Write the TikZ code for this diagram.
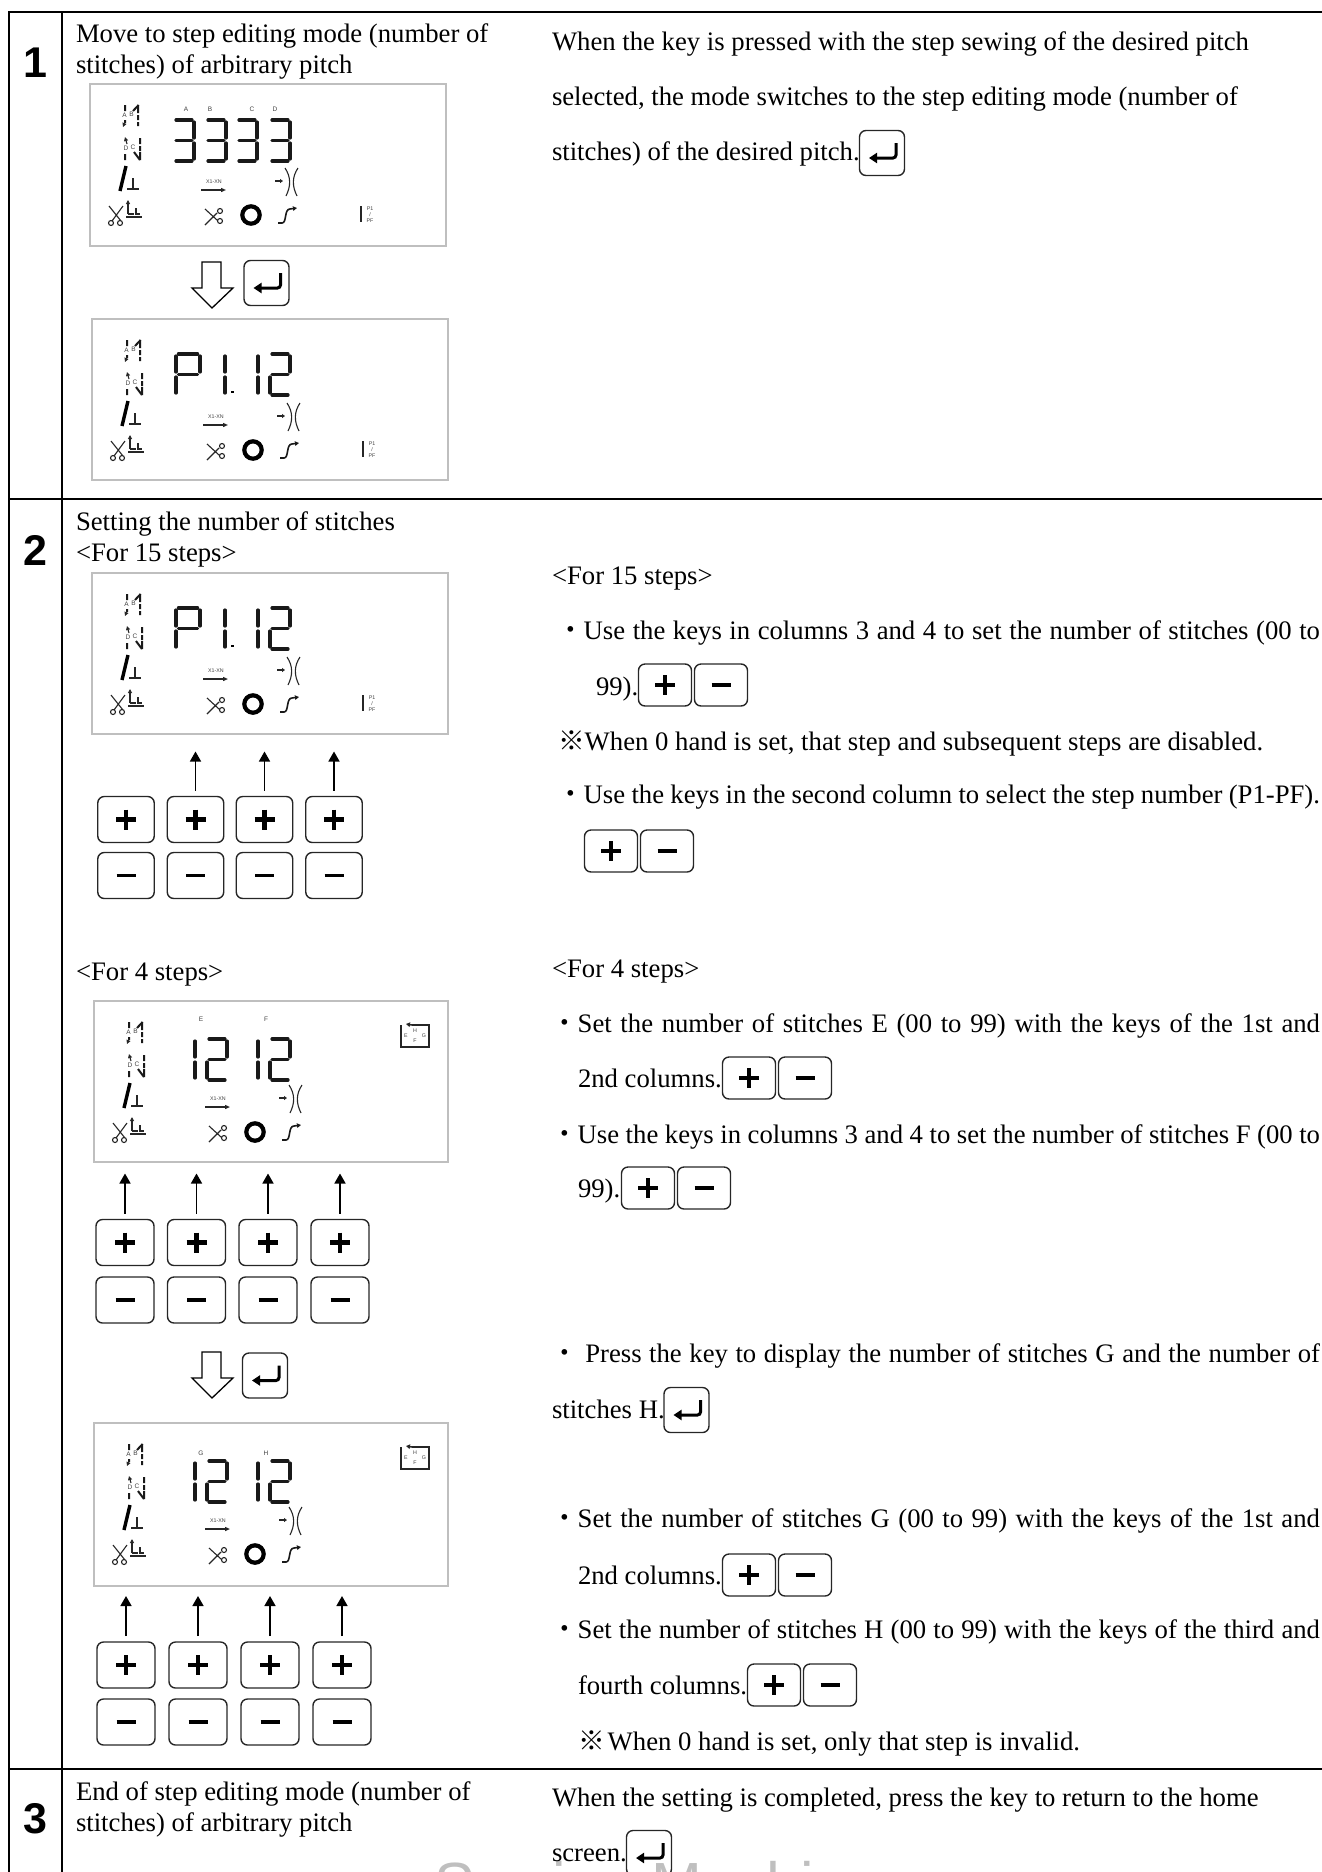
\documentclass[tikz,border=0pt]{standalone}
\usepackage{fontspec}
\setmainfont{Liberation Serif}
\newfontfamily\jpf{Noto Sans CJK JP}
\newfontfamily\arl{Liberation Sans}
\usetikzlibrary{arrows.meta}
\tikzset{
  txt/.style={anchor=base west,inner sep=0pt,outer sep=0pt,font=\fontsize{26.7}{32}\selectfont},
  rownum/.style={anchor=base,inner sep=0pt,font=\arl\bfseries\fontsize{43}{50}\selectfont},
  grid/.style={line width=2.5pt,black},
  panel/.style={draw=black!25,line width=1.2pt,anchor=north west,inner sep=0pt,outer sep=0pt},
  keybox/.style={draw=black!85,line width=1.4pt,rounded corners=6.5pt,inner sep=0pt,outer sep=0pt},
  glyph/.style={line width=4.2pt,black},
  entglyph/.style={line width=3pt,black,rounded corners=3pt,-{Triangle[width=10pt,length=8pt]}},
  upkey/.style={line width=1.6pt,black,-{Triangle[width=11pt,length=10pt]}},
  hollow/.style={line width=1.3pt,black,fill=white},
  seg/.style={line width=3.2pt,black!90,line cap=round},
  dash seg/.style={line width=2pt,black!90},
  thin/.style={line width=1.1pt,black!85},
  lab/.style={inner sep=0pt,text=black!75,font=\arl\fontsize{6.5}{6.5}\selectfont},
  tiny lab/.style={inner sep=0pt,text=black!75,font=\arl\fontsize{5.3}{5.5}\selectfont},
}
% segments of a digit 20 wide, 41 high
\newcommand{\sga}{\draw[seg] (2,0)--(18,0);}
\newcommand{\sgb}{\draw[seg] (20,2)--(20,18);}
\newcommand{\sgc}{\draw[seg] (20,23)--(20,39);}
\newcommand{\sgd}{\draw[seg] (2,41)--(18,41);}
\newcommand{\sge}{\draw[seg] (0,23)--(0,39);}
\newcommand{\sgf}{\draw[seg] (0,2)--(0,18);}
\newcommand{\sgg}{\draw[seg] (2,20.5)--(18,20.5);}
\newcommand{\dgt}[3]{\begin{scope}[shift={(#1,#2)}]#3\end{scope}}
\newcommand{\dgw}[3]{\begin{scope}[shift={(#1,#2)},xscale=1.2]#3\end{scope}}
\newcommand{\dthree}{\sga\sgb\sgc\sgd\sgg}
\newcommand{\dtwo}{\sga\sgb\sgg\sge\sgd}
\newcommand{\dP}{\sga\sgb\sgf\sge\sgg}
\newcommand{\done}{\sgb\sgc}
% common icons of the LCD panel, coordinates relative to the panel corner
\newcommand{\lcdicons}{%
  \draw[dash seg] (35,21)--(35,27) (35,36)--(35,39) (48,21)--(48,29) (48,31)--(48,36) (48,38)--(48,42) (48.6,21)--(43,27);
  \draw[thin,-{Triangle[width=4pt,length=4pt]}] (35,38)--(33,43);
  \node[lab] (la) at (34.5,31) {A};
  \node[lab] (lb) at (41.5,30) {B};
  \draw[dash seg] (50,54)--(50,60) (50,62)--(50,67) (50,68)--(50,76) (44,68)--(50,76) (35,70)--(35,76);
  \draw[thin,-{Triangle[width=4pt,length=4pt]}] (37,60)--(35,53);
  \node[lab] (ld) at (36,64) {D};
  \node[lab] (lc) at (43,63) {C};
  \draw[line width=3.4pt,black] (30,107)--(36,82);
  \draw[line width=1.4pt,black!85] (43,94)--(43,104) (37,105)--(49,105);
  \draw[thin] (19,122)--(31,137) (33,122)--(22,137) (21,139) circle (2.5) (30,139) circle (2.5);
  \draw[thin,-{Triangle[width=4pt,length=4pt]}] (38,130)--(38,116);
  \draw[line width=1.6pt,black!85] (36,133)--(52,133);
  \draw[thin] (38,130)--(44,130) (46,124)--(46,131) (46,130)--(50,130);
  \node[tiny lab] (xx) at (124,98) {X1-XN};
  \draw[line width=1.4pt,black!85,-{Triangle[width=4pt,length=5pt]}] (111,106)--(136,106);
  \draw[thin,-{Triangle[width=4pt,length=3pt]}] (185,97)--(193,97);
  \draw[thin] (195,84) .. controls (201,93) and (201,102) .. (196,112);
  \draw[thin] (208,84) .. controls (202,93) and (202,102) .. (207,112);
  \draw[thin] (115,125)--(127,136) (115,141)--(127,129) (130,127) circle (2.5) (130,137) circle (2.5);
  \draw[line width=4.2pt,black] (161,131) circle (8.7);
  \draw[line width=1.6pt,black!90,-{Triangle[width=4.5pt,length=4pt]}] (188,139)--(192,139) .. controls (197,139) and (194,125) .. (200,125)--(207,124);
}
\newcommand{\pfbar}{%
  \draw[line width=2.2pt,black!85] (271,122)--(271,138);
  \node[tiny lab] (lp1) at (280,125) {P1};
  \node[tiny lab] (lp2) at (280,131) {/};
  \node[tiny lab] (lp3) at (280,137) {PF};
}
\newcommand{\efgh}{%
  \draw[line width=2.2pt,black!85] (307,24)--(307,46)--(335,46)--(335,24)--(318,24);
  \draw[line width=1.5pt,black!85,-{Triangle[width=4.5pt,length=4pt]}] (318,24)--(312,23);
  \node[tiny lab] (lE) at (312,35) {E};
  \node[tiny lab] (lH) at (321,30) {H};
  \node[tiny lab] (lF) at (321,40) {F};
  \node[tiny lab] (lG) at (330,35) {G};
}
\newcommand{\panelP}{%
  \dgw{84}{35}{\dP}\dgt{113}{35}{\done}\draw[line width=2.4pt] (139,73)--(142,73);
  \dgt{146}{35}{\done}\dgt{178}{35}{\dtwo}
}
\newcommand{\panelDouble}[3]{%
  \node[lab] (l#1) at (107,#3) {#1};\node[lab] (l#2) at (172,#3) {#2};
  \dgt{81}{38}{\done}\dgt{113}{38}{\dtwo}\dgt{144}{38}{\done}\dgt{176}{38}{\dtwo}
}
% plus and minus keys
\newcommand{\plk}[5]{\node[keybox,minimum width=#4pt,minimum height=#5pt] (#1) at (#2,#3) {};
  \draw[glyph] (#1.center) +(-10,0) -- +(10,0) (#1.center) +(0,-10) -- +(0,10);}
\newcommand{\mnk}[5]{\node[keybox,minimum width=#4pt,minimum height=#5pt] (#1) at (#2,#3) {};
  \draw[glyph,line width=3.8pt] (#1.center) +(-9.5,0) -- +(9.5,0);}
\newcommand{\pmpair}[3]{\plk{#1p}{\the\numexpr#2+27\relax}{#3}{53}{42}\mnk{#1m}{\the\numexpr#2+83\relax}{#3}{53}{42}}
\newcommand{\entk}[3]{\node[keybox,minimum width=45pt,minimum height=45pt] (#1) at (#2,#3) {};
  \draw[entglyph] (#1.center) +(14,-10) -- +(14,5) -- +(-13,5);}
\newcommand{\keyrows}[8]{% prefix, x1..x4, yplus, yminus, w
  \plk{#1a}{#2}{#6}{#8}{46}\plk{#1b}{#3}{#6}{#8}{46}\plk{#1c}{#4}{#6}{#8}{46}\plk{#1d}{#5}{#6}{#8}{46}
  \mnk{#1e}{#2}{#7}{#8}{46}\mnk{#1f}{#3}{#7}{#8}{46}\mnk{#1g}{#4}{#7}{#8}{46}\mnk{#1h}{#5}{#7}{#8}{46}}
\newcommand{\hollowarrow}[1]{\draw[hollow,shift={(0,#1)}] (212,308)--(192,288)--(202,288)--(202,262)--(221,262)--(221,288)--(233,288)--cycle;}
\newcommand{\jl}[4]{\node[txt] (#1) at (#2,#3) {\hbox to \dimexpr1320pt-#2pt\relax{#4}};}
\newcommand{\bul}{{\jpf ・}}
\newcommand{\kome}{{\jpf ※}}
\begin{document}
\begin{tikzpicture}[x=1pt,y=-1pt]
\useasboundingbox (0,0) rectangle (1322,1872);
% watermark, cut by the page edge
\node[anchor=base west,inner sep=0pt,text=black!25,font=\arl\fontsize{61}{70}\selectfont] (wm) at (434,1905) {Sewing Machine};
% table
\draw[grid] (9,12) -- (1322,12);
\draw[grid] (9,499) -- (1322,499);
\draw[grid] (9,1769) -- (1322,1769);
\draw[grid] (9,11) -- (9,1872);
\draw[grid] (62,11) -- (62,1872);
\node[rownum] (n1) at (35,77) {1};
\node[rownum] (n2) at (35,565) {2};
\node[rownum] (n3) at (35,1833) {3};
% left column text
\node[txt] (t1a) at (76,42) {Move to step editing mode (number of};
\node[txt] (t1b) at (76,73) {stitches) of arbitrary pitch};
\node[txt] (t2a) at (76,530) {Setting the number of stitches};
\node[txt] (t2b) at (76,561) {<For 15 steps>};
\node[txt] (t2c) at (76,980) {<For 4 steps>};
\node[txt] (t3a) at (76,1800) {End of step editing mode (number of};
\node[txt] (t3b) at (76,1831) {stitches) of arbitrary pitch};
% panels
\node[panel,minimum width=356pt,minimum height=162pt] (p1) at (90,84) {};
\begin{scope}[shift={(90,84)}]\lcdicons\pfbar
  \node[lab] (pA) at (96,25) {A};\node[lab] (pB) at (120,25) {B};\node[lab] (pC) at (162,25) {C};\node[lab] (pD) at (185,25) {D};
  \dgt{84}{36}{\dthree}\dgt{116}{36}{\dthree}\dgt{147}{36}{\dthree}\dgt{180}{36}{\dthree}
\end{scope}
\hollowarrow{0}
\entk{ek1}{266.5}{283}
\node[panel,minimum width=356pt,minimum height=161pt] (p2) at (92,319) {};
\begin{scope}[shift={(92,319)}]\lcdicons\pfbar\panelP\end{scope}
\node[panel,minimum width=356pt,minimum height=161pt] (p3) at (92,573) {};
\begin{scope}[shift={(92,573)}]\lcdicons\pfbar\panelP\end{scope}
\keyrows{q}{126}{195.5}{264.5}{334}{819.5}{875.5}{56.5}
\draw[upkey] ([yshift=6pt]qb.north) -- +(0,-39);
\draw[upkey] ([yshift=6pt]qc.north) -- +(0,-39);
\draw[upkey] ([yshift=6pt]qd.north) -- +(0,-39);
\node[panel,minimum width=354pt,minimum height=161pt] (p4) at (94,1001) {};
\begin{scope}[shift={(94,1001)}]\lcdicons\efgh\panelDouble{E}{F}{18}\end{scope}
\keyrows{r}{125}{196.5}{268}{340}{1242.5}{1300}{58}
\foreach \k in {a,b,c,d}{\draw[upkey] ([yshift=6pt]r\k.north) -- +(0,-40);}
\hollowarrow{1090}
\entk{ek2}{265}{1375.5}
\node[panel,minimum width=354pt,minimum height=163pt] (p5) at (94,1423) {};
\begin{scope}[shift={(94,1423)}]\lcdicons\efgh\panelDouble{G}{H}{30}\end{scope}
\keyrows{s}{126}{198}{270}{342}{1665}{1722}{58}
\foreach \k in {a,b,c,d}{\draw[upkey] ([yshift=6pt]s\k.north) -- +(0,-40);}
% right column, row 1
\node[txt] (a1) at (552,50) {When the key is pressed with the step sewing of the desired pitch};
\node[txt] (a2) at (552,105) {selected, the mode switches to the step editing mode (number of};
\node[txt] (a3) at (552,160) {stitches) of the desired pitch.};
\entk{ek3}{882}{153}
% row 2, 15 steps
\node[txt] (b0) at (552,584) {<For 15 steps>};
\jl{b1}{557}{639}{\bul Use the keys in columns 3 and 4 to set the number of stitches (00 to}
\node[txt] (b2) at (596,695) {99).};
\pmpair{k1}{638}{685}
\node[txt] (b3) at (558,750) {\kome When 0 hand is set, that step and subsequent steps are disabled.};
\jl{b4}{557}{803}{\bul Use the keys in the second column to select the step number (P1-PF).}
\pmpair{k2}{584}{851}
% row 2, 4 steps
\node[txt] (c0) at (552,977) {<For 4 steps>};
\jl{c1}{551}{1032}{\bul Set the number of stitches E (00 to 99) with the keys of the 1st and}
\node[txt] (c2) at (578,1087) {2nd columns.};
\pmpair{k3}{722}{1078}
\jl{c3}{551}{1143}{\bul Use the keys in columns 3 and 4 to set the number of stitches F (00 to}
\node[txt] (c4) at (578,1197) {99).};
\pmpair{k4}{621}{1188}
\jl{c5}{551}{1362}{\bul\ Press the key to display the number of stitches G and the number of}
\node[txt] (c6) at (552,1418) {stitches H.};
\entk{ek4}{686.5}{1410}
\jl{c7}{551}{1527}{\bul Set the number of stitches G (00 to 99) with the keys of the 1st and}
\node[txt] (c8) at (578,1584) {2nd columns.};
\pmpair{k5}{722}{1575}
\jl{c9}{551}{1638}{\bul Set the number of stitches H (00 to 99) with the keys of the third and}
\node[txt] (c10) at (578,1694) {fourth columns.};
\pmpair{k6}{747}{1685}
\node[txt] (c11) at (578,1750) {\kome\kern3pt When 0 hand is set, only that step is invalid.};
% row 3
\node[txt] (d1) at (552,1806) {When the setting is completed, press the key to return to the home};
\node[txt] (d2) at (552,1861) {screen.};
\entk{ek5}{649}{1853}
\end{tikzpicture}
\end{document}
